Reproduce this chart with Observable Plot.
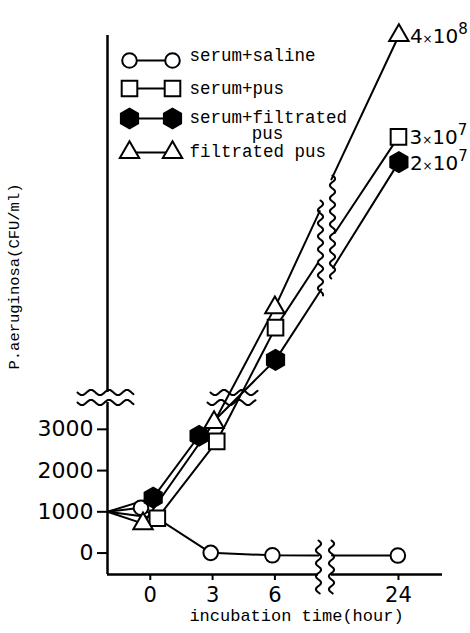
<!DOCTYPE html>
<html>
<head>
<meta charset="utf-8">
<script src="https://cdn.jsdelivr.net/npm/d3@7"></script>
<script src="https://cdn.jsdelivr.net/npm/@observablehq/plot@0.6"></script>
<style>
  html, body { margin: 0; padding: 0; background: #fff; }
</style>
</head>
<body>
<div id="chart"></div>
<script>
// ---------------- data ----------------
// Time axis is broken between 6 h and 24 h: positions below are along the drawn axis.
const hourLabels = ["0", "3", "6", "24"];
const hourPos = [0, 3, 6, 11.95];
// Value axis: linear CFU/ml up to the break, compressed (unlabelled) above it.
const yTicks = [0, 1000, 2000, 3000];

const seriesNames = ["serum+saline", "serum+pus", "serum+filtrated\npus", "filtrated pus"];
const seriesSymbols = ["circle", "square", "hexagon", "triangle"];
const seriesFill = ["white", "white", "black", "white"];
const seriesR = [7.3, 8.8, 8.6, 7.2];

// inoculum: every curve starts from 1000 CFU/ml at the value axis
const inoculumPos = -2.06;
const inoculumValue = 1000;

// measured points (markers are slightly staggered around each time in the original)
const salinePos = [-0.45, 2.91, 5.88, 11.92];
const salineVal = [1100, 5, -55, -60];
const pusPos = [0.34, 3.2, 6.03, 11.95];
const pusVal = [843, 2707, 5467, 10092];
const serumFiltPos = [0.14, 2.35, 6.03, 11.97];
const serumFiltVal = [1344, 2845, 4685, 9479];
const filtPos = [-0.35, 3.07, 6.0, 11.97];
const filtVal = [714, 3167, 5952, 12550];

// where each curve meets the left / right side of the time-axis break
const breakLeftPos = [8.09, 8.07, 8.24, 8.16];
const breakLeftVal = [-60, 7034, 6397, 8293];
const breakRightPos = [8.75, 8.88, 8.8, 8.72];
const breakRightVal = [-60, 7760, 6920, 9060];

// end labels at 24 h
const endSeries = [3, 1, 2];
const endMantissa = ["4", "3", "2"];
const endExponent = ["8", "7", "7"];

// ---------------- layout ----------------
const W = 470, H = 633, mL = 107, mR = 28, mT = 35, mB = 59;
const xDomain = [-2.06, 14.07], yDomain = [-520, 12550];
const X = d3.scaleLinear(xDomain, [mL, W - mR]);
const Y = d3.scaleLinear(yDomain, [H - mB, mT]);

const allPos = [salinePos, pusPos, serumFiltPos, filtPos];
const allVal = [salineVal, pusVal, serumFiltVal, filtVal];

const lineRows = [];
const dotRows = [];
allPos.forEach((pos, i) => {
  lineRows.push({s: i, seg: 0, x: inoculumPos, y: inoculumValue});
  pos.forEach((p, j) => {
    const row = {s: i, x: p, y: allVal[i][j]};
    dotRows.push(row);
    if (j < 3) lineRows.push({...row, seg: 0});
  });
  lineRows.push({s: i, seg: 0, x: breakLeftPos[i], y: breakLeftVal[i]});
  lineRows.push({s: i, seg: 1, x: breakRightPos[i], y: breakRightVal[i]});
  lineRows.push({s: i, seg: 1, x: pos[3], y: allVal[i][3]});
});

// break symbols (wavy lines), built in axis units
function hWave(px0, px1, py, amp = 2.6, period = 18) {
  return d3.range(px0, px1 + 0.01, 0.5).map(px => ({x: X.invert(px), y: Y.invert(py + amp * Math.sin(2 * Math.PI * (px - px0) / period))}));
}
function vWave(px, py0, py1, amp = 2.6, period = 13) {
  return d3.range(py0, py1 + 0.01, 0.5).map(py => ({x: X.invert(px + amp * Math.sin(2 * Math.PI * (py - py0) / period)), y: Y.invert(py)}));
}
const waves = [
  hWave(77, 133, 392), hWave(77, 133, 402),
  hWave(210, 257, 392), hWave(207, 255, 402),
  vWave(320, 200, 295), vWave(332, 175, 278),
  vWave(318, 540, 593), vWave(331, 540, 593)
];
const waveRows = waves.flatMap((w, k) => w.map(d => ({...d, k})));

// axis lines with gaps at the breaks
const yBreakLo = Y.invert(402), yBreakHi = Y.invert(392);
const xBreakLo = X.invert(318), xBreakHi = X.invert(331);

// legend (inside plot, top-left); the wrapped label gets its two lines as separate texts
const legRowPy = [60, 88, 118, 152];
const legX1 = X.invert(129), legX2 = X.invert(172), legTextX = X.invert(189), legMidX = X.invert(267);
const legend = seriesNames.map((n, i) => ({i, y: Y.invert(legRowPy[i])}));
const legendDots = legend.flatMap(d => [{...d, x: legX1}, {...d, x: legX2}]);
const legendLines = [
  {text: "serum+saline", x: legTextX, y: Y.invert(60), anchor: "start"},
  {text: "serum+pus", x: legTextX, y: Y.invert(93), anchor: "start"},
  {text: "serum+filtrated", x: legTextX, y: Y.invert(122), anchor: "start"},
  {text: "pus", x: legMidX, y: Y.invert(138), anchor: "middle"},
  {text: "filtrated pus", x: legTextX, y: Y.invert(156), anchor: "start"}
];

const sans = "DejaVu Sans, sans-serif";
const mono = "Liberation Mono, DejaVu Sans Mono, monospace";

const marks = [
  // axis lines
  Plot.ruleX([0, 1], {x: xDomain[0], y1: i => i ? yBreakHi : yDomain[0], y2: i => i ? yDomain[1] : yBreakLo, strokeWidth: 2.5}),
  Plot.ruleY([0, 1], {y: yDomain[0], x1: i => i ? xBreakHi : xDomain[0], x2: i => i ? xDomain[1] : xBreakLo, strokeWidth: 2.5}),
  Plot.axisY({ticks: yTicks, tickFormat: d => String(d), tickSize: 10, tickPadding: 4, fontSize: 22, fontFamily: sans, strokeWidth: 2, label: null}),
  Plot.axisX({ticks: hourPos, tickFormat: d => hourLabels[hourPos.indexOf(d)], tickSize: 6, tickPadding: 7, fontSize: 21, fontFamily: sans, strokeWidth: 2, label: null}),
  // curves
  Plot.line(lineRows, {x: "x", y: "y", z: d => d.s * 2 + d.seg, stroke: "black", strokeWidth: 2, curve: "linear"}),
  // break symbols
  Plot.line(waveRows, {x: "x", y: "y", z: "k", stroke: "black", strokeWidth: 2, curve: "linear"}),
  // markers
  ...seriesNames.map((n, i) => Plot.dot(dotRows.filter(d => d.s === i), {
    x: "x", y: "y", symbol: () => seriesSymbols[i], r: seriesR[i], fill: seriesFill[i], stroke: "black", strokeWidth: 2
  })),
  // end labels
  Plot.text(endSeries.map((s, k) => ({x: allPos[s][3], y: allVal[s][3], text: `${endMantissa[k]}×10^${endExponent[k]}`})), {
    x: "x", y: "y", text: "text", textAnchor: "start", dx: 11, dy: 1, fontSize: 20, fontFamily: sans, fill: "black"
  }),
  // legend
  Plot.link(legend, {x1: legX1, x2: legX2, y1: "y", y2: "y", stroke: "black", strokeWidth: 2}),
  ...seriesNames.map((n, i) => Plot.dot(legendDots.filter(d => d.i === i), {
    x: "x", y: "y", symbol: () => seriesSymbols[i], r: seriesR[i], fill: seriesFill[i], stroke: "black", strokeWidth: 2
  })),
  Plot.text(legendLines.filter(d => d.anchor === "start"), {x: "x", y: "y", text: "text", textAnchor: "start", lineAnchor: "bottom", fontSize: 17.5, fontFamily: mono, fill: "black"}),
  Plot.text(legendLines.filter(d => d.anchor === "middle"), {x: "x", y: "y", text: "text", textAnchor: "middle", lineAnchor: "bottom", fontSize: 17.5, fontFamily: mono, fill: "black"}),
  // axis titles
  Plot.text(["incubation time(hour)"], {x: X.invert(296), y: Y.invert(620), text: d => d, lineAnchor: "bottom", fontSize: 17, fontFamily: mono, fill: "black"}),
  Plot.text(["P.aeruginosa(CFU/ml)"], {x: X.invert(14), y: Y.invert(276), text: d => d, rotate: -90, fontSize: 15.5, fontFamily: mono, fill: "black"})
];

const chart = Plot.plot({
  width: W, height: H,
  marginLeft: mL, marginRight: mR, marginTop: mT, marginBottom: mB,
  x: {domain: xDomain, axis: null},
  y: {domain: yDomain, axis: null},
  symbol: {type: "identity"},
  style: {background: "white", fontFamily: sans, overflow: "visible"},
  marks
});

// superscript exponents on end labels
d3.select(chart).selectAll("text").each(function() {
  const m = this.textContent.match(/^(\d)×10\^(\d)$/);
  if (!m) return;
  const t = d3.select(this);
  t.text(null);
  t.append("tspan").text(m[1]);
  t.append("tspan").attr("font-size", 12).text("×");
  t.append("tspan").text("10");
  t.append("tspan").attr("font-size", 15).attr("dy", -9).text(m[2]);
});

document.getElementById("chart").append(chart);
</script>
</body>
</html>
